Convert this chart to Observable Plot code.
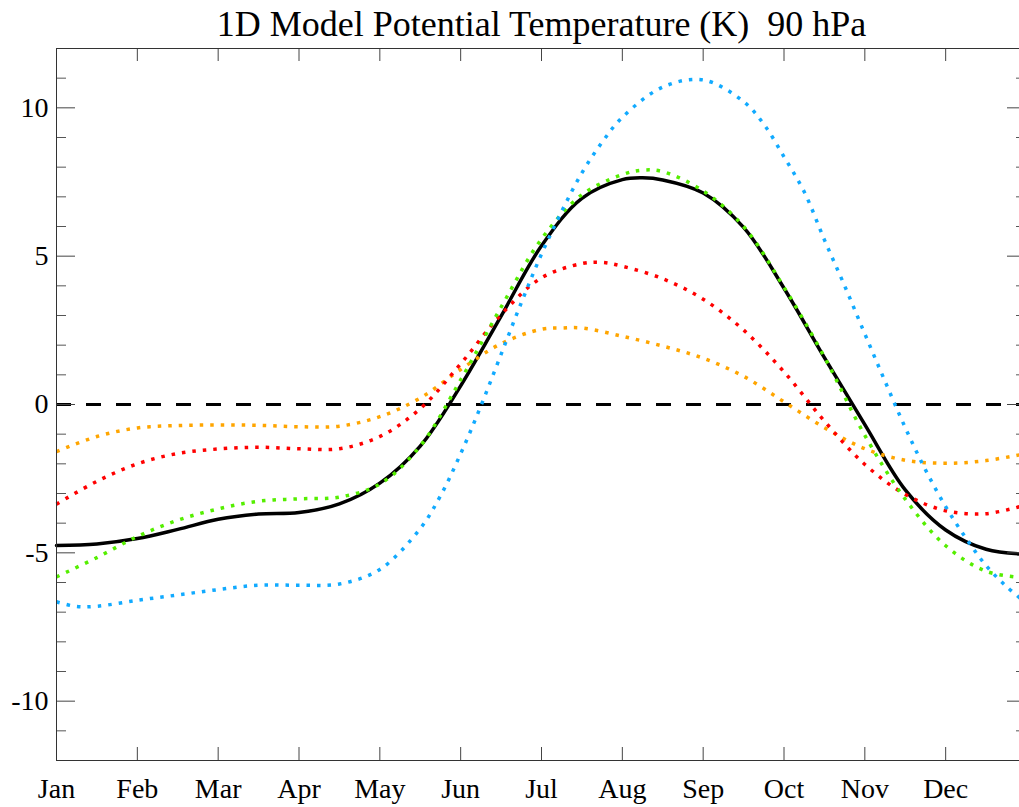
<!DOCTYPE html>
<html><head><meta charset="utf-8">
<script src="https://cdn.jsdelivr.net/npm/d3@7"></script>
<script src="https://cdn.jsdelivr.net/npm/@observablehq/plot@0.6"></script>
<style>html,body{margin:0;padding:0;overflow:hidden;background:#fff} svg{max-width:none !important;}</style>
</head><body><div id="chart"></div>
<script>
const title = "1D Model Potential Temperature (K)  90 hPa";
const monthLabels = ["Jan","Feb","Mar","Apr","May","Jun","Jul","Aug","Sep","Oct","Nov","Dec"];
const monthTicks = [0,1,2,3,4,5,6,7,8,9,10,11];
const yMajor = [-10,-5,0,5,10];
const yMinor = [-11,-9,-8,-7,-6,-4,-3,-2,-1,1,2,3,4,6,7,8,9,11];

const blackX = [0,0.5,1,1.5,2,2.5,3,3.5,4,4.5,5,5.5,6,6.5,7,7.25,7.5,8,8.5,9,9.5,10,10.5,11,11.5,12];
const blackY = [-4.75,-4.70,-4.52,-4.21,-3.87,-3.69,-3.64,-3.35,-2.65,-1.40,0.63,2.98,5.35,6.95,7.58,7.64,7.57,7.13,5.97,3.92,1.58,-0.68,-2.88,-4.23,-4.88,-5.05];

const greenX = [0,0.5,1,1.5,2,2.5,3,3.5,4,4.5,5,5.5,6,6.5,7,7.25,7.5,8,8.5,9,9.5,10,10.5,11,11.5,12];
const greenY = [-5.81,-5.16,-4.45,-3.90,-3.52,-3.26,-3.18,-3.12,-2.68,-1.40,0.83,3.28,5.58,7.07,7.75,7.90,7.85,7.20,6.00,3.95,1.60,-1.04,-3.19,-4.76,-5.62,-5.85];

const redX = [0,0.5,1,1.5,2,2.5,3,3.5,4,4.5,5,5.5,6,6.5,6.75,7,7.5,8,8.5,9,9.5,10,10.5,11,11.5,12];
const redY = [-3.36,-2.59,-2.00,-1.65,-1.50,-1.44,-1.49,-1.49,-1.08,-0.14,1.37,3.03,4.27,4.75,4.79,4.66,4.24,3.55,2.51,1.10,-0.56,-2.02,-3.03,-3.58,-3.68,-3.38];

const orangeX = [0,0.5,1,1.5,2,2.5,3,3.5,4,4.5,5,5.5,6,6.25,6.5,7,7.5,8,8.5,9,9.5,10,10.5,11,11.5,12];
const orangeY = [-1.59,-1.08,-0.79,-0.71,-0.69,-0.70,-0.75,-0.73,-0.41,0.22,1.18,2.05,2.54,2.58,2.58,2.30,1.97,1.56,0.95,0.09,-0.78,-1.49,-1.88,-1.98,-1.89,-1.65];

const blueX = [0,0.25,0.5,1,1.5,2,2.5,3,3.5,4,4.5,4.75,5,5.25,5.5,5.75,6,6.25,6.5,6.75,7,7.5,8,8.5,8.75,9,9.25,9.5,9.75,10,10.25,10.5,10.75,11,11.25,11.5,11.75,12];
const blueY = [-6.65,-6.81,-6.80,-6.60,-6.42,-6.24,-6.09,-6.09,-6.05,-5.56,-4.18,-3.08,-1.66,-0.05,1.69,3.43,5.07,6.51,7.81,8.84,9.68,10.70,10.94,10.21,9.45,8.35,7.17,5.55,4.00,2.38,0.78,-0.78,-2.20,-3.44,-4.50,-5.43,-6.13,-6.70];

const toRows = (xs, ys) => xs.map((x, i) => ({x, y: ys[i]}));
const dotted = [
  {rows: toRows(orangeX, orangeY), color: "#ffa500"},
  {rows: toRows(redX, redY), color: "#ff0000"},
  {rows: toRows(greenX, greenY), color: "#55ee00"},
  {rows: toRows(blueX, blueY), color: "#11aaff"}
];

const W = 1030, H = 807;
const mL = 56, mR = 4, mT = 48, mB = 47;
const pw = W - mL - mR, ph = H - mT - mB;
const font = "'Liberation Serif', 'Times New Roman', serif";

const chart = Plot.plot({
  width: W, height: H,
  marginLeft: mL, marginRight: mR, marginTop: mT, marginBottom: mB,
  style: {fontFamily: font, background: "#fff", color: "#000", overflow: "visible", maxWidth: "none"},
  x: {domain: [0, 12], label: null},
  y: {domain: [-12, 12], label: null},
  marks: [
    Plot.ruleY([0], {stroke: "#000", strokeWidth: 3, strokeDasharray: "15,15"}),
    Plot.line(toRows(blackX, blackY), {x: "x", y: "y", curve: "catmull-rom", stroke: "#000", strokeWidth: 3.5}),
    ...dotted.map(s => Plot.line(s.rows, {x: "x", y: "y", curve: "catmull-rom", stroke: s.color, strokeWidth: 3.5, strokeLinecap: "butt", strokeDasharray: "3.5,7"})),
    Plot.tickX(monthTicks, {x: d => d, insetTop: ph - 13, stroke: "#444"}),
    Plot.tickX(monthTicks, {x: d => d, insetBottom: ph - 13, stroke: "#444"}),
    Plot.tickY(yMajor, {y: d => d, insetRight: pw - 19, stroke: "#444"}),
    Plot.tickY(yMajor, {y: d => d, insetLeft: pw - 19, stroke: "#444"}),
    Plot.tickY(yMinor, {y: d => d, insetRight: pw - 10, stroke: "#555"}),
    Plot.tickY(yMinor, {y: d => d, insetLeft: pw - 10, stroke: "#555"}),
    Plot.frame({stroke: "#333"}),
    Plot.axisX(monthTicks, {tickSize: 0, tickPadding: 18, fontSize: 28, tickFormat: d => monthLabels[d], fill: "#000", label: null}),
    Plot.axisY(yMajor, {tickSize: 0, tickPadding: 8, fontSize: 28, tickFormat: d => String(d), fill: "#000", label: null}),
    Plot.text([title], {frameAnchor: "top", lineAnchor: "bottom", dy: -13, fontSize: 36, fill: "#000", fontFamily: font})
  ]
});
document.getElementById("chart").appendChild(chart);
</script>
</body></html>
